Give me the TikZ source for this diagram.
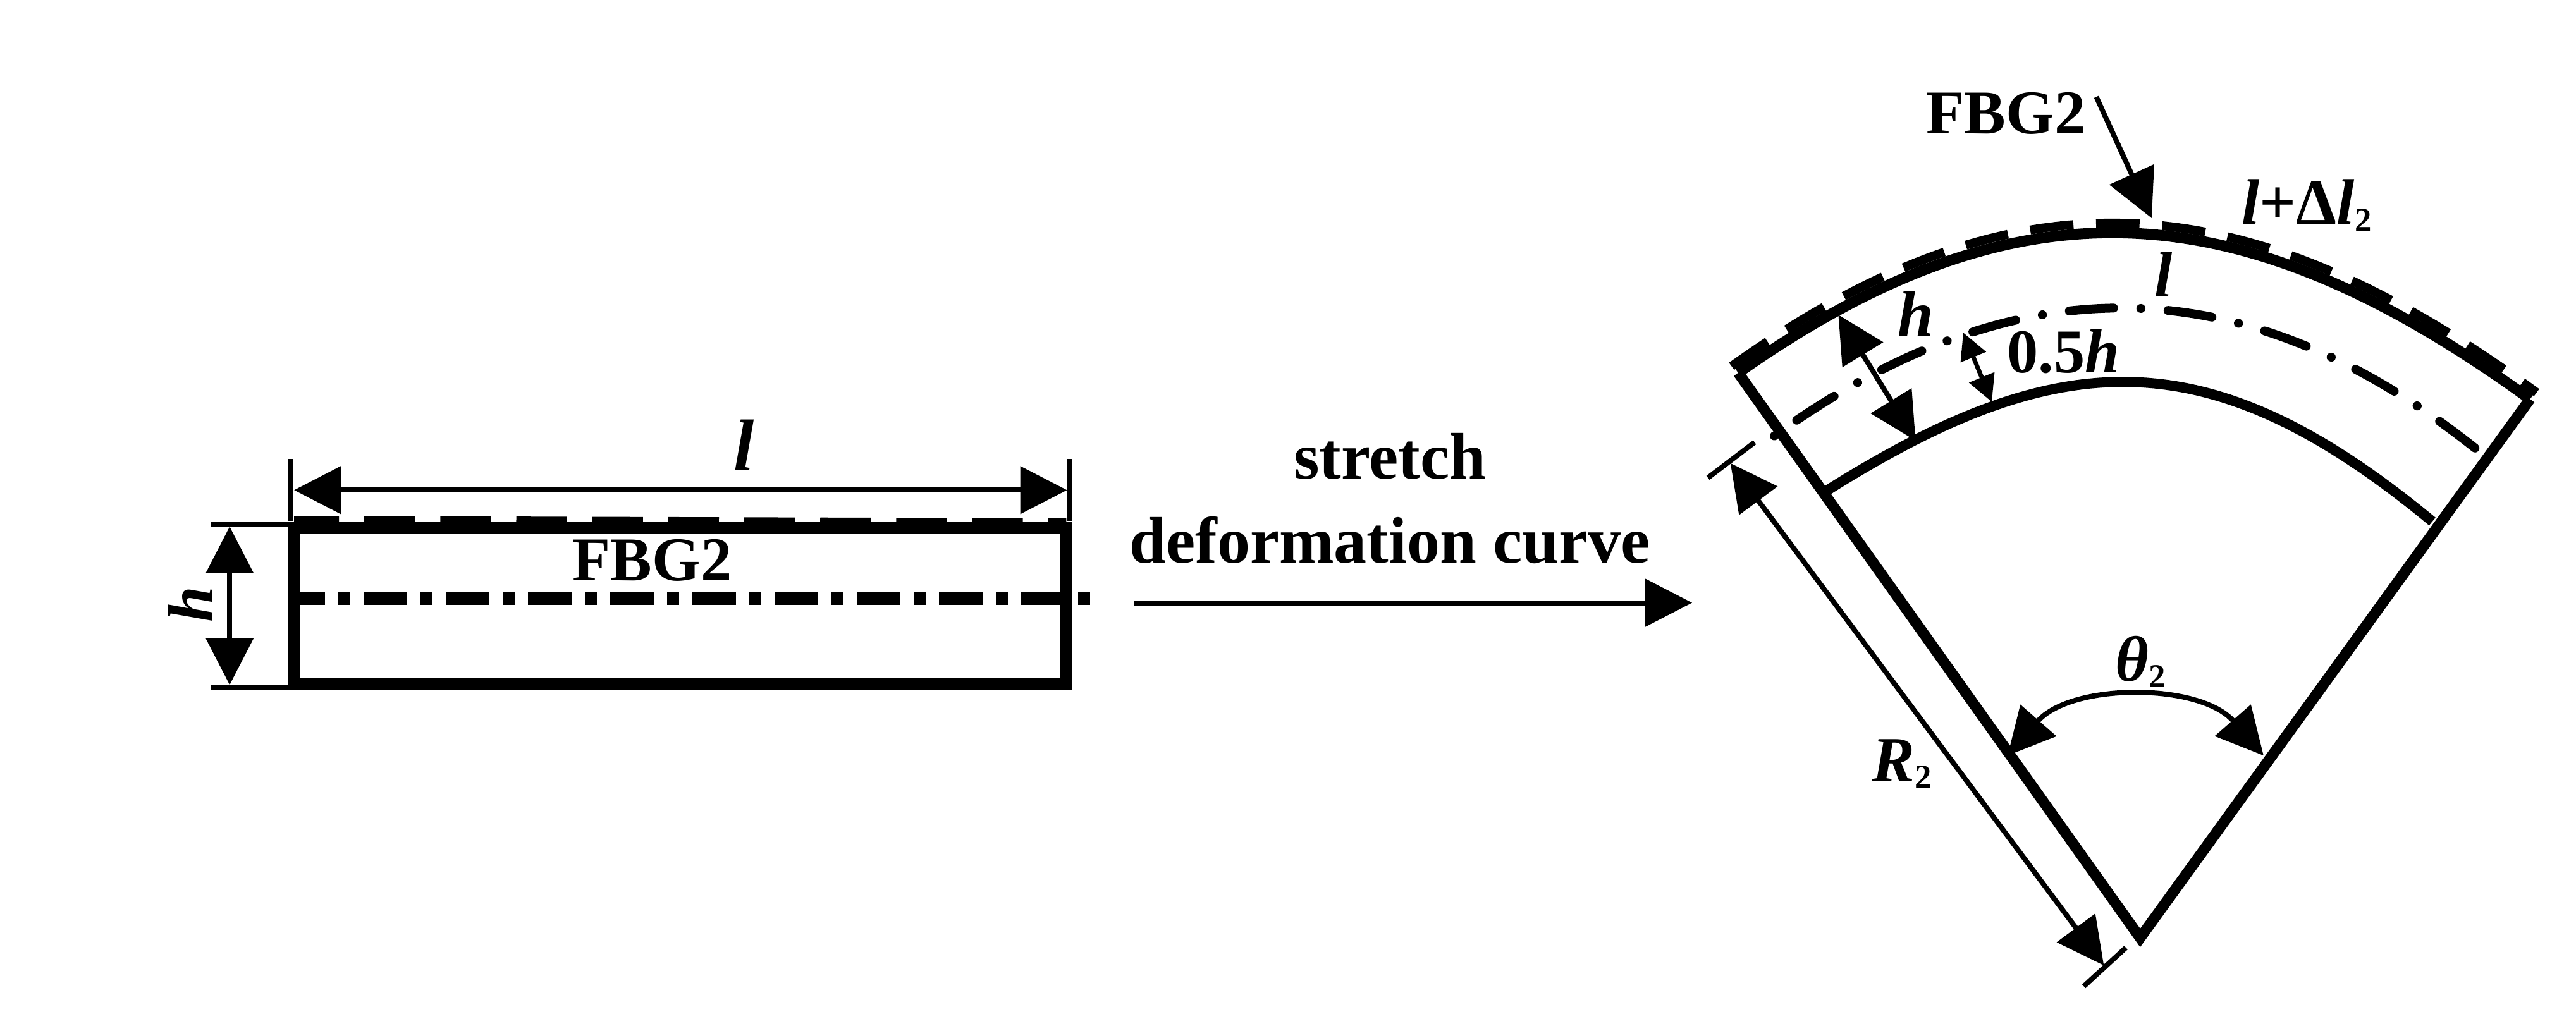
\documentclass[tikz,border=0pt]{standalone}
\usepackage{fontspec}
\setmainfont{Liberation Serif}
\usetikzlibrary{arrows.meta}
\newcommand{\subtwo}{\raisebox{-.22ex}{\fontsize{15}{15}\selectfont\upshape 2}}
\tikzset{
  lab/.style={font=\bfseries\fontsize{29.6}{32}\selectfont,inner sep=0pt},
  fbglab/.style={font=\bfseries\fontsize{28}{30}\selectfont,inner sep=0pt},
  mathlab/.style={font=\bfseries\itshape\fontsize{29}{32}\selectfont,inner sep=0pt},
  thin line/.style={line width=0.8mm},
  dimline/.style={{Triangle[length=7.4mm,width=7.4mm]}-{Triangle[length=7.4mm,width=7.4mm]},line width=0.8mm},
  onearrow/.style={-{Triangle[length=7.4mm,width=7.4mm]},line width=0.8mm},
  smalldim/.style={{Triangle[length=4.2mm,width=4.2mm]}-{Triangle[length=4.2mm,width=4.2mm]},line width=0.7mm}
}
\begin{document}
\begin{tikzpicture}[x=0.025982cm,y=-0.025982cm]
\useasboundingbox (0,0) rectangle (1568,620.4);
\coordinate (ltl) at (179,298.4);
\coordinate (ltr) at (649.5,298.4);
\coordinate (exl) at (177,279.3);
\coordinate (exlb) at (177,317);
\coordinate (exr) at (651.3,279.3);
\coordinate (exrb) at (651.3,317);
\coordinate (hta) at (139.8,320.6);
\coordinate (htb) at (139.8,417);
\coordinate (exta) at (128.2,319);
\coordinate (extb) at (175,319);
\coordinate (exba) at (128.2,418.8);
\coordinate (exbb) at (175,418.8);
\coordinate (arra) at (690,367);
\coordinate (arrb) at (1030,367);
\coordinate (apex) at (1302.7,571);
\coordinate (cl) at (1058,227);
\coordinate (cr) at (1540,243);
\coordinate (ra) at (1053.3,282);
\coordinate (rb) at (1280.6,587.8);
\coordinate (rta) at (1039.6,290.9);
\coordinate (rtb) at (1068,269.3);
\coordinate (rba) at (1268.4,600.5);
\coordinate (rbb) at (1294,577);
\coordinate (tha) at (1222,460);
\coordinate (thb) at (1377.8,460);
\coordinate (fha) at (1119,191.7);
\coordinate (fhb) at (1166,268.3);
\coordinate (sha) at (1195,202.5);
\coordinate (shb) at (1212.4,244.7);
\coordinate (fbga) at (1276,59);
\coordinate (fbgb) at (1309.7,132.8);

\draw[line width=2mm] (179,321.4) rectangle (649,416.5);
\draw[line width=1mm,dash pattern=on 22.8pt off 11.4pt,dash phase=2.6pt] (179,316) -- (649,317.5);
\draw[line width=2mm,dash pattern=on 19.6pt off 6pt on 5.4pt off 6pt,dash phase=8.6pt] (183,364.5) -- (664,364.5);
\draw[thin line] (exl) -- (exlb);
\draw[thin line] (exr) -- (exrb);
\draw[dimline] (ltl) -- (ltr);
\draw[thin line] (exta) -- (extb);
\draw[thin line] (exba) -- (exbb);
\draw[dimline] (hta) -- (htb);
\node[mathlab,font=\bfseries\itshape\fontsize{33}{34}\selectfont] (llab) at (453,271) {l};
\node[mathlab,rotate=90] (hlab) at (116,368) {h};
\node[fbglab] (fbgl) at (397,341) {FBG2};
\node[lab] (strlab) at (846,278) {stretch};
\node[lab] (deflab) at (846,329) {deformation curve};
\draw[onearrow] (arra) -- (arrb);

\draw[line width=1.7mm,line join=miter] (cl) -- (apex) -- (cr);
\draw[line width=1.7mm] (cl) .. controls (1232,104.5) and (1367,117.7) .. (cr);
\draw[line width=1.4mm,dash pattern=on 19.6pt off 10.2pt] (1054,223) .. controls (1229,98) and (1369,111) .. (1544,239);
\draw[line width=1.6mm] (1112,298.7) .. controls (1253,210) and (1344.5,204.9) .. (1480.5,317.5);
\draw[line width=1.4mm,line cap=round,dash pattern=on 20pt off 12.2pt on 0.1pt off 12.2pt,dash phase=32.2pt] (1080,265.4) .. controls (1226,160) and (1366,160.4) .. (1508,274);
\draw[onearrow,{Triangle[length=7.6mm,width=7.6mm]}-] (fbgb) -- (fbga);
\draw[dimline] (fha) -- (fhb);
\draw[smalldim] (sha) -- (shb);
\draw[thin line] (rta) -- (rtb);
\draw[thin line] (rba) -- (rbb);
\draw[dimline] (ra) -- (rb);
\draw[dimline] (tha) .. controls (1261,415.6) and (1339,415.6) .. (thb);
\node[fbglab] (fbgr) at (1221,69) {FBG2};
\node[mathlab] (dllab) at (1404,125) {l{\upshape+Δ}l\subtwo};
\node[mathlab] (lmid) at (1317,167) {l};
\node[mathlab] (hfan) at (1166,191) {h};
\node[fbglab] (halfh) at (1256,214) {0.5\textit{h}};
\node[mathlab] (thlab) at (1303,403) {θ\subtwo};
\node[mathlab] (rlab) at (1157.7,465) {R\subtwo};
\end{tikzpicture}
\end{document}
